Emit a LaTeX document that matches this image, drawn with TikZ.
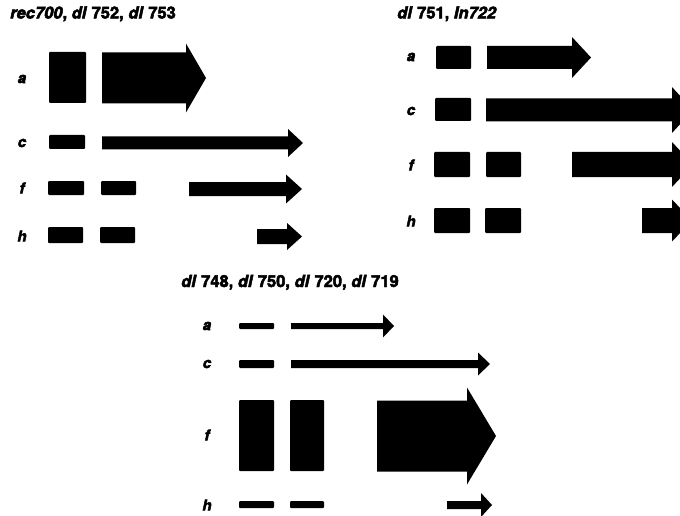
\documentclass[tikz,border=0pt]{standalone}
\usepackage{fontspec}
\setmainfont{TeX Gyre Heros}[BoldFeatures={FakeBold=3},BoldItalicFeatures={FakeBold=3}]
\newcommand\garr[6]{%
  \fill (#1,{#4-#5}) -- (#2,{#4-#5}) -- (#2,{#4-#6}) -- (#3,#4) -- (#2,{#4+#6}) -- (#2,{#4+#5}) -- (#1,{#4+#5}) -- cycle;}
\newcommand\gbox[4]{\fill[rounded corners=1pt] (#1,#2) rectangle (#3,#4);}
\begin{document}
\begin{tikzpicture}[x=1pt,y=-1pt,
  ttl/.style={anchor=base west,inner sep=0pt,font=\fontsize{16.5}{16.5}\selectfont\bfseries},
  lbl/.style={anchor=center,inner sep=0pt,font=\fontsize{15}{15}\selectfont\bfseries\itshape}]
\useasboundingbox (0,0) rectangle (680,516);
\clip (0,0) rectangle (680,516);
% ---------- panel 1
\node[ttl] (t1) at (10,18.5) {\textit{rec700}, \textit{dl} 752, \textit{dl} 753};
\node[lbl] (l1a) at (22,79) {a};
\node[lbl] (l1c) at (22,143) {c};
\node[lbl] (l1f) at (22,188) {f};
\node[lbl] (l1h) at (22,236) {h};
\gbox{49}{52}{86}{103}
\garr{102}{186}{206}{78}{25.5}{34.5}
\gbox{49}{135}{85}{149}
\garr{102}{288}{303}{143}{6.5}{14}
\gbox{48}{181}{84}{195}
\gbox{101}{181}{136}{195}
\garr{189}{286}{302}{189}{7}{14.5}
\gbox{48}{227}{83}{243}
\gbox{100}{227}{135}{243}
\garr{257}{287}{302}{236.5}{7.5}{13.5}
% ---------- panel 2
\node[ttl] (t2) at (397,18.5) {\textit{dl} 751, \textit{In722}};
\node[lbl] (l2a) at (411,57) {a};
\node[lbl] (l2c) at (411,111) {c};
\node[lbl] (l2f) at (411,165) {f};
\node[lbl] (l2h) at (411,221) {h};
\gbox{436}{46}{471}{69}
\garr{487}{572}{591}{57.5}{11.5}{20.5}
\gbox{435}{98}{471}{121}
\garr{486}{672}{693}{110}{11.5}{23}
\gbox{434}{152}{470}{177}
\gbox{486}{152}{521}{177}
\garr{572}{672}{693}{164.5}{12.5}{22.5}
\gbox{434}{208}{470}{233}
\gbox{485}{208}{521}{233}
\garr{642}{672}{692}{220.5}{12.5}{21}
% ---------- panel 3
\node[ttl] (t3) at (181,287) {\textit{dl} 748, \textit{dl} 750, \textit{dl} 720, \textit{dl} 719};
\node[lbl] (l3a) at (207,326) {a};
\node[lbl] (l3c) at (207,364) {c};
\node[lbl] (l3f) at (207,435) {f};
\node[lbl] (l3h) at (207,505) {h};
\gbox{239}{323}{274}{329}
\garr{291}{383}{394}{326}{3}{11.5}
\gbox{239}{360}{274}{368}
\garr{291}{478}{490}{364}{4}{11.5}
\gbox{239}{400}{274}{471}
\gbox{290}{400}{324}{471}
\garr{377}{467}{496}{436}{35.5}{48.5}
\gbox{239}{501}{274}{508}
\gbox{290}{501}{324}{508}
\garr{447}{481}{492}{505}{4}{12}
\end{tikzpicture}
\end{document}
